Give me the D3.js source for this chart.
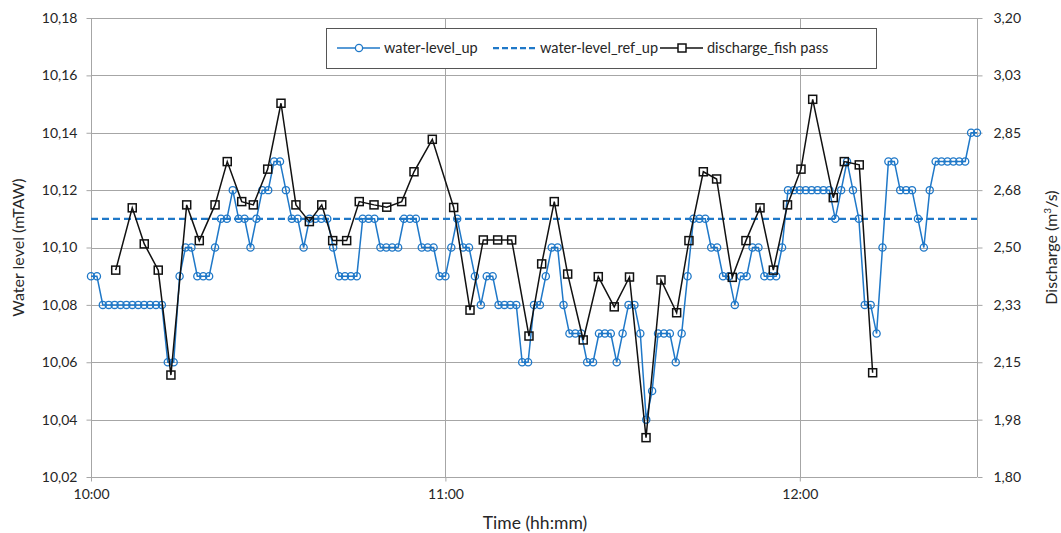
<!DOCTYPE html>
<html>
<head>
<meta charset="utf-8">
<script src="https://cdn.jsdelivr.net/npm/d3@7"></script>
<style>
  html, body { margin: 0; padding: 0; background: #fff; }
  svg { display: block; font-family: Lato, "Open Sans", sans-serif; }
</style>
</head>
<body>
<svg id="chart" width="1061" height="533"></svg>
<script>
// Upstream water level, sampled every minute from 10:00 to 12:30 (mTAW)
const levelStart = "10:00";
const waterLevelUp = [
  10.09, 10.09, 10.08, 10.08, 10.08, 10.08, 10.08, 10.08, 10.08, 10.08,
  10.08, 10.08, 10.08, 10.06, 10.06, 10.09, 10.10, 10.10, 10.09, 10.09,
  10.09, 10.10, 10.11, 10.11, 10.12, 10.11, 10.11, 10.10, 10.11, 10.12,
  10.12, 10.13, 10.13, 10.12, 10.11, 10.11, 10.10, 10.11, 10.11, 10.11,
  10.11, 10.10, 10.09, 10.09, 10.09, 10.09, 10.11, 10.11, 10.11, 10.10,
  10.10, 10.10, 10.10, 10.11, 10.11, 10.11, 10.10, 10.10, 10.10, 10.09,
  10.09, 10.10, 10.11, 10.10, 10.10, 10.09, 10.08, 10.09, 10.09, 10.08,
  10.08, 10.08, 10.08, 10.06, 10.06, 10.08, 10.08, 10.09, 10.10, 10.10,
  10.08, 10.07, 10.07, 10.07, 10.06, 10.06, 10.07, 10.07, 10.07, 10.06,
  10.07, 10.08, 10.08, 10.07, 10.04, 10.05, 10.07, 10.07, 10.07, 10.06,
  10.07, 10.09, 10.11, 10.11, 10.11, 10.10, 10.10, 10.09, 10.09, 10.08,
  10.09, 10.09, 10.10, 10.10, 10.09, 10.09, 10.09, 10.10, 10.12, 10.12,
  10.12, 10.12, 10.12, 10.12, 10.12, 10.12, 10.11, 10.12, 10.13, 10.12,
  10.11, 10.08, 10.08, 10.07, 10.10, 10.13, 10.13, 10.12, 10.12, 10.12,
  10.11, 10.10, 10.12, 10.13, 10.13, 10.13, 10.13, 10.13, 10.13, 10.14,
  10.14
];

// Reference upstream water level (mTAW)
const waterLevelRefUp = 10.11;

// Fish pass discharge readings (m³/s)
const dischargeTimes = [
  "10:04:11", "10:06:59", "10:09:01", "10:11:23", "10:13:32", "10:16:12",
  "10:18:20", "10:21:00", "10:23:04", "10:25:31", "10:27:29", "10:29:55",
  "10:32:10", "10:34:42", "10:36:58", "10:39:04", "10:40:55", "10:43:17",
  "10:45:25", "10:47:55", "10:50:04", "10:52:36", "10:54:41", "10:57:47",
  "11:01:24", "11:04:10", "11:06:25", "11:08:51", "11:11:13", "11:14:09",
  "11:16:18", "11:18:26", "11:20:42", "11:23:20", "11:25:53", "11:28:35",
  "11:31:10", "11:33:58", "11:36:30", "11:39:09", "11:41:14", "11:43:40",
  "11:45:55", "11:48:34", "11:50:53", "11:53:16", "11:55:31", "11:57:55",
  "12:00:12", "12:02:11", "12:05:40", "12:07:32", "12:10:04", "12:12:20"
];
const dischargeFishPass = [
  2.431, 2.621, 2.511, 2.431, 2.111, 2.630,
  2.521, 2.630, 2.762, 2.640, 2.630, 2.739,
  2.940, 2.630, 2.579, 2.630, 2.521, 2.521,
  2.640, 2.630, 2.623, 2.640, 2.731, 2.830,
  2.622, 2.309, 2.523, 2.523, 2.523, 2.230,
  2.450, 2.640, 2.419, 2.218, 2.411, 2.319,
  2.410, 1.920, 2.401, 2.301, 2.521, 2.731,
  2.709, 2.409, 2.521, 2.621, 2.431, 2.630,
  2.739, 2.952, 2.652, 2.762, 2.752, 2.118
];

// Axis ticks
const timeTicks = ["10:00", "11:00", "12:00"];
const levelTicks = [10.02, 10.04, 10.06, 10.08, 10.10, 10.12, 10.14, 10.16, 10.18];
const dischargeTicks = [1.80, 1.975, 2.15, 2.325, 2.50, 2.675, 2.85, 3.025, 3.20];
const timeRange = ["10:00", "12:30"];

const parseHM = d3.timeParse("%H:%M");
const parseHMS = d3.timeParse("%H:%M:%S");
// two decimals, halves rounded up, decimal comma
const fmtComma = v => d3.format(".2f")(Math.round(v * 100 + 1e-6) / 100).replace(".", ",");

const svg = d3.select("#chart");
const margin = { left: 91, right: 84, top: 18, bottom: 56 };
const W = 1061, H = 533;
const x0 = margin.left, x1 = W - margin.right;
const y0 = H - margin.bottom, y1 = margin.top;

const x = d3.scaleTime().domain(timeRange.map(parseHM)).range([x0, x1]);
const yL = d3.scaleLinear().domain([10.02, 10.18]).range([y0, y1]);
const yR = d3.scaleLinear().domain([1.80, 3.20]).range([y0, y1]);

const gridColor = "#a6a6a6";
const textColor = "#262626";
const blue = "#1f78c8";

// Horizontal gridlines
svg.append("g")
  .selectAll("line")
  .data(levelTicks)
  .join("line")
  .attr("x1", x0).attr("x2", x1)
  .attr("y1", d => Math.round(yL(d)) + 0.5).attr("y2", d => Math.round(yL(d)) + 0.5)
  .attr("stroke", gridColor).attr("stroke-width", 1);

// Vertical gridlines at the hours
svg.append("g")
  .selectAll("line")
  .data(timeTicks.map(parseHM))
  .join("line")
  .attr("x1", d => Math.round(x(d)) + 0.5).attr("x2", d => Math.round(x(d)) + 0.5)
  .attr("y1", y1).attr("y2", y0)
  .attr("stroke", gridColor).attr("stroke-width", 1);

// Left axis
const axL = svg.append("g")
  .attr("transform", `translate(${x0 + 0.5},0)`)
  .call(d3.axisLeft(yL).tickValues(levelTicks).tickFormat(fmtComma).tickSize(5).tickPadding(9));
// Right axis
const axR = svg.append("g")
  .attr("transform", `translate(${x1 + 0.5},0)`)
  .call(d3.axisRight(yR).tickValues(dischargeTicks).tickFormat(fmtComma).tickSize(5).tickPadding(11));
// Bottom axis
const axB = svg.append("g")
  .attr("transform", `translate(0,${y0 + 0.5})`)
  .call(d3.axisBottom(x).tickValues(timeTicks.map(parseHM)).tickFormat(d3.timeFormat("%H:%M")).tickSize(4).tickPadding(8));

[axL, axR, axB].forEach(g => {
  g.select(".domain").attr("stroke", gridColor);
  g.selectAll(".tick line").attr("stroke", gridColor);
  g.selectAll(".tick text")
    .attr("fill", textColor)
    .style("font-family", "Lato, 'Open Sans', sans-serif")
    .style("font-size", "14px");
});
axL.select(".domain").attr("d", `M0,${y1}V${y0}`);
axR.select(".domain").attr("d", `M0,${y1}V${y0}`);
axB.select(".domain").attr("d", `M${x0},0H${x1}`);

// Axis titles
svg.append("text")
  .attr("x", (x0 + x1) / 2 + 1).attr("y", 529)
  .attr("text-anchor", "middle")
  .attr("fill", textColor).style("font-size", "17.5px")
  .text("Time (hh:mm)");

svg.append("text")
  .attr("transform", `translate(24,${(y0 + y1) / 2}) rotate(-90)`)
  .attr("text-anchor", "middle")
  .attr("fill", textColor).style("font-size", "16px")
  .text("Water level (mTAW)");

const rt = svg.append("text")
  .attr("transform", `translate(1057,${(y0 + y1) / 2}) rotate(-90)`)
  .attr("text-anchor", "middle")
  .attr("fill", textColor).style("font-size", "16px");
rt.append("tspan").text("Discharge (m");
rt.append("tspan").attr("dy", -6).style("font-size", "10px").text("3");
rt.append("tspan").attr("dy", 6).text("/s)");

// Reference level (dashed)
svg.append("line")
  .attr("x1", x0).attr("x2", x1)
  .attr("y1", yL(waterLevelRefUp)).attr("y2", yL(waterLevelRefUp))
  .attr("stroke", blue).attr("stroke-width", 2.25)
  .attr("stroke-dasharray", "7,4");

// Water level series
const startT = parseHM(levelStart);
const levelPts = waterLevelUp.map((v, i) => ({ t: d3.timeMinute.offset(startT, i), v }));

svg.append("path")
  .datum(levelPts)
  .attr("fill", "none")
  .attr("stroke", blue).attr("stroke-width", 1.5)
  .attr("d", d3.line().x(d => x(d.t)).y(d => yL(d.v)));

svg.append("g")
  .selectAll("circle")
  .data(levelPts)
  .join("circle")
  .attr("cx", d => x(d.t)).attr("cy", d => yL(d.v))
  .attr("r", 3.6)
  .attr("fill", "none")
  .attr("stroke", blue).attr("stroke-width", 1.3);

// Fish pass discharge series
const dischargePts = dischargeTimes.map((t, i) => ({ t: parseHMS(t), v: dischargeFishPass[i] }));

svg.append("path")
  .datum(dischargePts)
  .attr("fill", "none")
  .attr("stroke", "#111").attr("stroke-width", 1.5)
  .attr("d", d3.line().x(d => x(d.t)).y(d => yR(d.v)));

const sq = 8;
svg.append("g")
  .selectAll("rect")
  .data(dischargePts)
  .join("rect")
  .attr("x", d => x(d.t) - sq / 2).attr("y", d => yR(d.v) - sq / 2)
  .attr("width", sq).attr("height", sq)
  .attr("fill", "none")
  .attr("stroke", "#111").attr("stroke-width", 1.5);

// Legend
const lg = svg.append("g");
lg.append("rect")
  .attr("x", 326.5).attr("y", 28.5).attr("width", 550).attr("height", 40)
  .attr("fill", "#fff").attr("stroke", "#555").attr("stroke-width", 1);

const ly = 48;
const legendItems = [
  { label: "water-level_up", x: 337, kind: "circle" },
  { label: "water-level_ref_up", x: 493, kind: "dash" },
  { label: "discharge_fish pass", x: 660, kind: "square" }
];
legendItems.forEach(it => {
  const line = lg.append("line")
    .attr("x1", it.x).attr("x2", it.x + 43)
    .attr("y1", ly).attr("y2", ly);
  if (it.kind === "circle") {
    line.attr("stroke", blue).attr("stroke-width", 1.5);
    lg.append("circle").attr("cx", it.x + 22).attr("cy", ly).attr("r", 3.6)
      .attr("fill", "#fff").attr("stroke", blue).attr("stroke-width", 1.3);
  } else if (it.kind === "dash") {
    line.attr("stroke", blue).attr("stroke-width", 2.25).attr("stroke-dasharray", "6,3");
  } else {
    line.attr("stroke", "#111").attr("stroke-width", 1.5);
    lg.append("rect").attr("x", it.x + 22 - sq / 2).attr("y", ly - sq / 2)
      .attr("width", sq).attr("height", sq)
      .attr("fill", "#fff").attr("stroke", "#111").attr("stroke-width", 1.5);
  }
  lg.append("text")
    .attr("x", it.x + 47).attr("y", ly).attr("dy", "0.35em")
    .attr("fill", textColor).style("font-size", "14.5px")
    .text(it.label);
});
</script>
</body>
</html>
